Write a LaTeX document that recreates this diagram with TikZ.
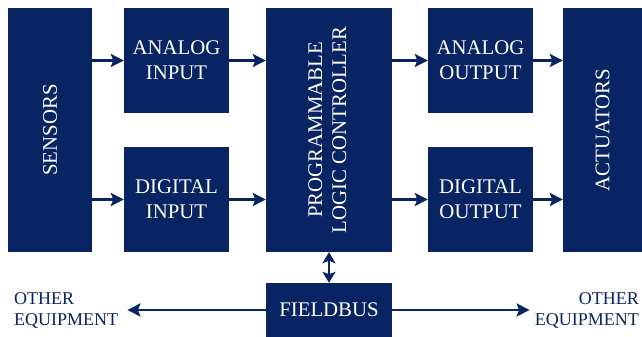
\documentclass[tikz,border=0pt]{standalone}
\usepackage{fontspec}
\setmainfont{Liberation Serif}
\usetikzlibrary{arrows.meta}
\definecolor{navy}{RGB}{9,36,98}
\tikzset{
  blk/.style={fill=navy, draw=none, text=white, align=center, inner sep=0pt,
    font=\fontsize{20.8}{25}\selectfont},
  arr/.style={draw=navy, line width=2.8pt, -{Stealth[length=13pt,width=13pt,inset=2.5pt]}},
  darr/.style={draw=navy, line width=2.8pt, {Stealth[length=11pt,width=13pt,inset=2.5pt]}-{Stealth[length=11pt,width=13pt,inset=2.5pt]}},
  oe/.style={text=navy, inner sep=0pt, font=\fontsize{18}{21}\selectfont}
}
\begin{document}
\begin{tikzpicture}[x=1pt,y=-1pt]
\useasboundingbox (0,0) rectangle (642,337);
\node[blk, minimum width=84pt, minimum height=244pt] (S) at (50,130) {\rotatebox{90}{SENSORS}};
\node[blk, minimum width=105pt, minimum height=105pt] (AI) at (176.5,60.5) {ANALOG\\INPUT};
\node[blk, minimum width=105pt, minimum height=105pt] (DI) at (176.5,199.5) {DIGITAL\\INPUT};
\node[blk, minimum width=126pt, minimum height=244pt] (P) at (329,130) {\rotatebox{90}{\begin{tabular}{@{}c@{}}PROGRAMMABLE\\[-1pt]LOGIC CONTROLLER\end{tabular}}};
\node[blk, minimum width=105pt, minimum height=105pt] (AO) at (480.5,60.5) {ANALOG\\OUTPUT};
\node[blk, minimum width=105pt, minimum height=105pt] (DO) at (480.5,199.5) {DIGITAL\\OUTPUT};
\node[blk, minimum width=79pt, minimum height=244pt] (A) at (602.5,130) {\rotatebox{90}{ACTUATORS}};
\node[blk, minimum width=126pt, minimum height=54pt] (F) at (329,310) {FIELDBUS};
\node[oe, align=left, anchor=west] (OE1) at (14,310) {OTHER\\EQUIPMENT};
\node[oe, align=right, anchor=east] (OE2) at (639,310) {OTHER\\EQUIPMENT};

\draw[arr] (S.east |- AI.west) -- (AI.west);
\draw[arr] (S.east |- DI.west) -- (DI.west);
\draw[arr] (AI.east) -- (P.west |- AI.east);
\draw[arr] (DI.east) -- (P.west |- DI.east);
\draw[arr] (P.east |- AO.west) -- (AO.west);
\draw[arr] (P.east |- DO.west) -- (DO.west);
\draw[arr] (AO.east) -- (A.west |- AO.east);
\draw[arr] (DO.east) -- (A.west |- DO.east);
\draw[darr] (P.south) -- (F.north);
\draw[arr] (F.west) -- ([xshift=9pt]OE1.east |- F.west);
\draw[arr] (F.east) -- ([xshift=-5pt]OE2.west |- F.east);
\end{tikzpicture}
\end{document}
